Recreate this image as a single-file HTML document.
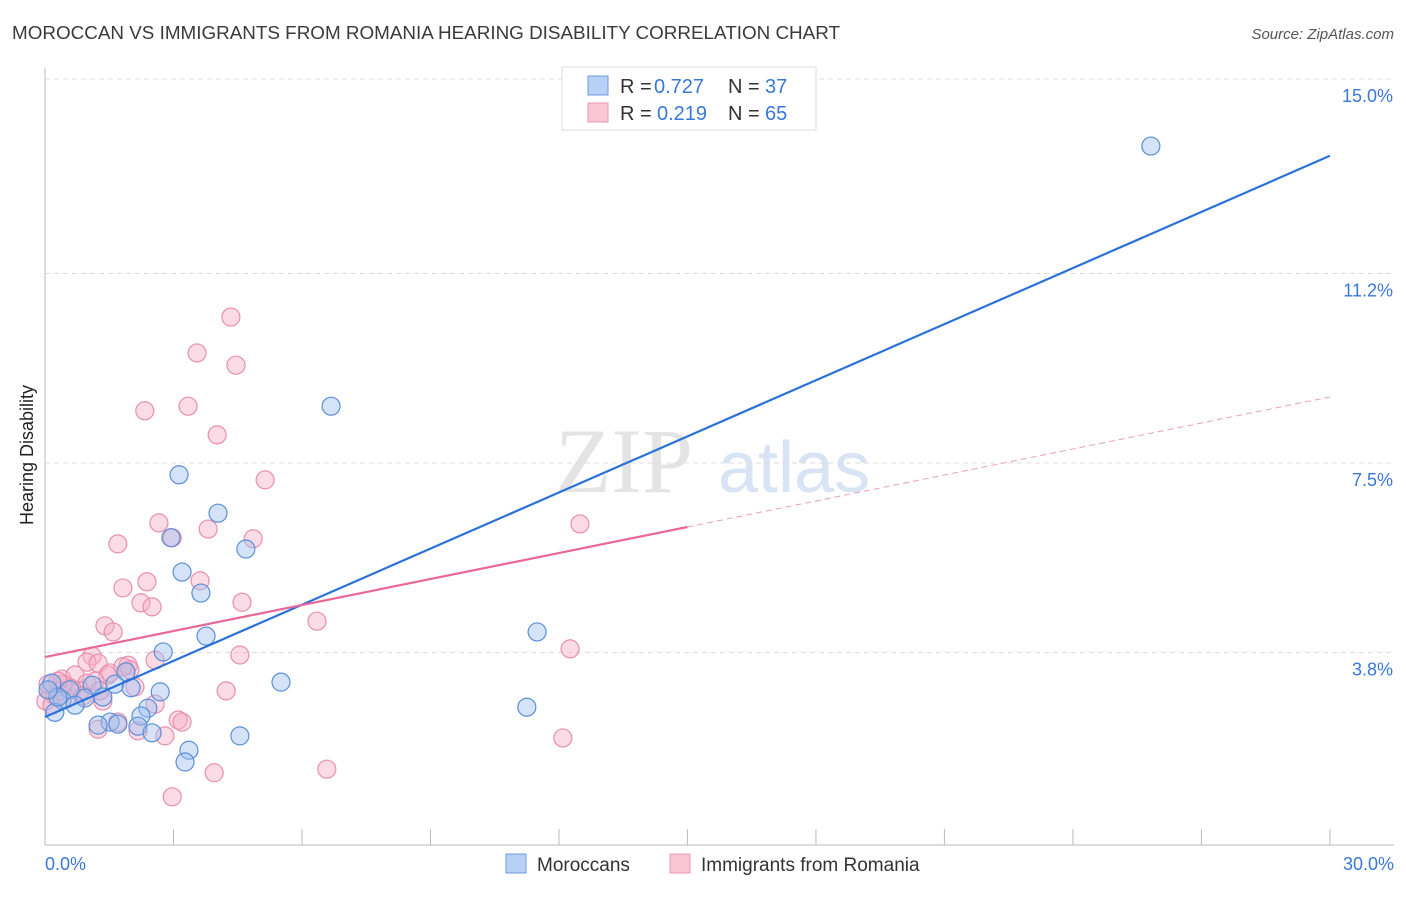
<!DOCTYPE html>
<html><head><meta charset="utf-8"><style>
body{margin:0;background:#fff;font-family:"Liberation Sans",sans-serif}
</style></head><body>
<svg width="1406" height="892" viewBox="0 0 1406 892" id="svg" style="font-family:'Liberation Sans',sans-serif">
<text x="12" y="39" font-size="18" fill="#3a3a3a" textLength="828" lengthAdjust="spacingAndGlyphs">MOROCCAN VS IMMIGRANTS FROM ROMANIA HEARING DISABILITY CORRELATION CHART</text>
<text x="1394" y="39" font-size="15" fill="#555" font-style="italic" text-anchor="end">Source: ZipAtlas.com</text>
<text transform="translate(33,455) rotate(-90)" font-size="18" fill="#222" text-anchor="middle">Hearing Disability</text>
<g>
<text x="555" y="492" font-size="92" fill="#e4e4e4" font-family="Liberation Serif,serif">ZIP</text>
<text x="718" y="492" font-size="72" fill="#d8e4f4">atlas</text>
</g>
<g id="grid"></g>
<g id="axes"></g>
<g id="pts"></g>
<g id="lines"></g>
<g>
<rect x="562" y="67" width="254" height="63" fill="#fff" stroke="#ddd"/>
<rect x="588" y="76" width="20" height="19" fill="#b7d0f5" stroke="#6b9be0"/>
<rect x="588" y="103" width="20" height="19" fill="#f9c6d6" stroke="#ea97b2"/>
<text y="93" font-size="20" fill="#333"><tspan x="620">R =</tspan><tspan x="654" fill="#3a78d8">0.727</tspan><tspan x="728">N =</tspan><tspan x="765" fill="#3a78d8">37</tspan></text>
<text y="120" font-size="20" fill="#333"><tspan x="620">R =</tspan><tspan x="657" fill="#3a78d8">0.219</tspan><tspan x="728">N =</tspan><tspan x="765" fill="#3a78d8">65</tspan></text>
</g>
<g>
<rect x="506" y="854" width="20" height="19" fill="#b7d0f5" stroke="#6b9be0"/>
<text x="537" y="871" font-size="19" fill="#333">Moroccans</text>
<rect x="670" y="854" width="20" height="19" fill="#f9c6d6" stroke="#ea97b2"/>
<text x="701" y="871" font-size="19" fill="#333">Immigrants from Romania</text>
</g>
</svg>
<script>
const blueX=[25.82,6.68,3.13,4.04,2.94,4.69,3.20,3.64,11.49,3.76,2.76,5.51,1.89,1.63,2.69,2.01,1.10,0.16,0.58,0.93,1.35,0.40,0.70,0.23,2.40,11.25,2.24,1.52,1.24,1.70,2.17,2.50,4.55,3.36,3.27,0.30,0.07];
const blueY=[13.69,8.61,7.27,6.52,6.04,5.82,5.37,4.96,4.20,4.12,3.81,3.22,3.42,3.18,3.03,3.11,3.16,3.20,3.07,2.91,2.93,2.87,2.77,2.63,2.71,2.73,2.56,2.44,2.38,2.40,2.36,2.23,2.17,1.89,1.66,2.93,3.07];
const pinkX=[4.34,3.55,4.46,2.33,3.34,4.02,5.14,2.66,12.49,3.81,4.86,2.97,1.70,3.62,2.38,1.82,4.60,2.24,2.50,6.35,1.40,1.59,12.26,4.55,2.57,1.10,0.98,1.24,1.94,1.47,1.98,0.40,0.70,0.98,0.35,0.58,0.82,1.17,0.12,0.23,0.02,0.49,2.10,4.23,1.35,2.57,3.11,3.20,1.24,2.17,2.80,12.09,3.95,6.58,2.97,1.70,0.16,0.63,0.89,0.42,0.07,1.52,1.82,0.30,1.28];
const pinkY=[10.35,9.65,9.41,8.52,8.61,8.05,7.17,6.33,6.31,6.21,6.02,6.04,5.92,5.20,5.18,5.06,4.78,4.77,4.69,4.41,4.32,4.20,3.87,3.75,3.65,3.73,3.61,3.59,3.55,3.36,3.46,3.28,3.36,3.20,3.05,3.11,3.05,3.24,3.05,2.95,2.85,2.89,3.125,3.05,2.85,2.79,2.48,2.44,2.30,2.27,2.17,2.13,1.45,1.52,0.98,2.44,2.77,3.09,2.95,3.18,3.18,3.40,3.52,3.24,3.05];
const blueTrend=[2.54,13.50];
const pinkTrend=[3.71,8.79];
const yTicks=[15.0,11.2,7.5,3.8];
const yTickLabels=["15.0%","11.2%","7.5%","3.8%"];
const xTicks=[0,3,6,9,12,15,18,21,24,27,30];
const NS="http://www.w3.org/2000/svg";
const sx=v=>45+v*42.83;
const sy=v=>847-v*51.2;
function mk(t,a,p){const e=document.createElementNS(NS,t);for(const k in a)e.setAttribute(k,a[k]);p.appendChild(e);return e;}
const grid=document.getElementById('grid'),axes=document.getElementById('axes'),pts=document.getElementById('pts'),lines=document.getElementById('lines');
yTicks.forEach((v,i)=>{
 const l=mk('line',{x1:45,x2:1394,y1:sy(v),y2:sy(v),stroke:'#ddd','stroke-dasharray':'5,4'},grid);
 
 
 const t=mk('text',{x:1393,y:sy(v)+23,'font-size':18,fill:'#3a78d8','text-anchor':'end'},axes);
 t.textContent=yTickLabels[i];
 
 
});
mk('line',{x1:45,x2:45,y1:68,y2:845,stroke:'#bbb'},axes);
mk('line',{x1:45,x2:1394,y1:845,y2:845,stroke:'#bbb'},axes);
xTicks.forEach(v=>{
 const l=mk('line',{x1:sx(v),x2:sx(v),y1:829,y2:845,stroke:'#bbb'},axes);
 
 
});
let t0=mk('text',{x:45,y:870,'font-size':18,fill:'#3a78d8'},axes);t0.textContent="0.0%";


let t1=mk('text',{x:1394,y:870,'font-size':18,fill:'#3a78d8','text-anchor':'end'},axes);t1.textContent="30.0%";


pinkX.forEach((x,i)=>{
 const c=mk('circle',{cx:sx(x),cy:sy(pinkY[i]),r:9,fill:'rgba(246,176,198,0.45)',stroke:'#e98fae','stroke-width':1.2},pts);
 
 
});
blueX.forEach((x,i)=>{
 const c=mk('circle',{cx:sx(x),cy:sy(blueY[i]),r:9,fill:'rgba(160,194,240,0.45)',stroke:'#5b8fd8','stroke-width':1.2},pts);
 
 
});
const pAt=x=>pinkTrend[0]+(pinkTrend[1]-pinkTrend[0])*x/30;
let bl=mk('line',{x1:sx(0),y1:sy(blueTrend[0]),x2:sx(30),y2:sy(blueTrend[1]),stroke:'#2a72d8','stroke-width':2.2},lines);


let pl=mk('line',{x1:sx(0),y1:sy(pAt(0)),x2:sx(15),y2:sy(pAt(15)),stroke:'#e8689a','stroke-width':2.2},lines);


let pd=mk('line',{x1:sx(15),y1:sy(pAt(15)),x2:sx(30),y2:sy(pAt(30)),stroke:'#eaa0b8','stroke-width':1,'stroke-dasharray':'6,4'},lines);


</script>
</body></html>
